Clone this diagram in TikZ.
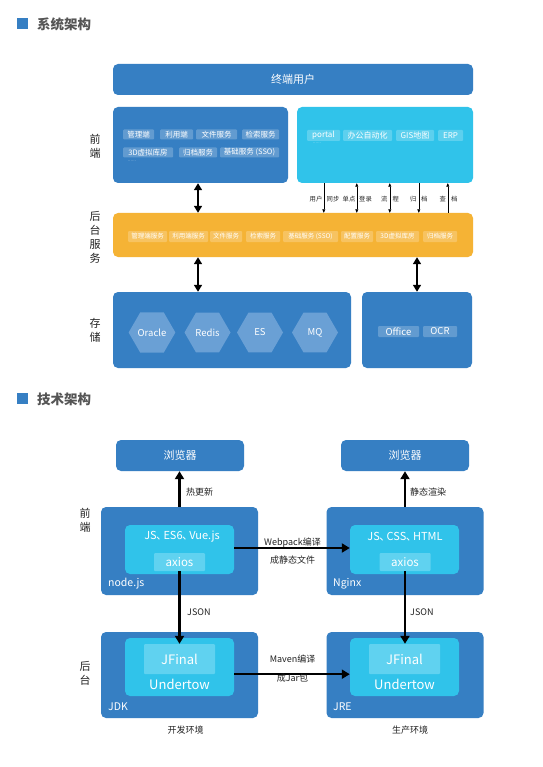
\documentclass[tikz,border=0pt]{standalone}
\usepackage{fontspec}
\setmainfont{Noto Sans CJK SC}
\usetikzlibrary{arrows.meta,shapes.geometric}
\definecolor{mblue}{HTML}{367FC3}
\definecolor{mcyan}{HTML}{30C3EA}
\definecolor{morange}{HTML}{F5B335}
\definecolor{mhex}{HTML}{6AA0D5}
\definecolor{mlcyan}{HTML}{60D2F0}
\definecolor{mgray}{HTML}{555555}
\definecolor{mdark}{HTML}{222222}
\newcommand\mydun{\makebox[0.62em][l]{\kern-0.05em 、}}
\tikzset{
  blk/.style={rounded corners=5pt, inner sep=0pt, text=white},
  bluebox/.style={blk, fill=mblue},
  cyanbox/.style={blk, fill=mcyan},
  orangebox/.style={blk, fill=morange},
  tagbox/.style={fill=white, fill opacity=0.22, text opacity=1, text=white, inner sep=0pt, rounded corners=1pt, font=\fontsize{7.5}{8}\selectfont, minimum height=10pt},
  btag/.style={tagbox, font=\fontsize{6.5}{7}\selectfont, minimum height=11pt},
  rtag/.style={tagbox, font=\fontsize{8}{9}\selectfont, minimum height=11pt},
  stag/.style={tagbox, font=\fontsize{9.5}{10}\selectfont, minimum height=11pt},
  hexnode/.style={regular polygon, regular polygon sides=6, minimum size=46pt, inner sep=0pt, fill=mhex, text=white, font=\fontsize{9.5}{10}\selectfont},
  sidelbl/.style={font=\fontsize{11}{14}\selectfont, align=center, text=mdark},
  title/.style={font=\fontsize{13.5}{14}\selectfont\bfseries, text=mgray, anchor=west, inner sep=0pt},
  sq/.style={fill=mblue, minimum size=11pt, inner sep=0pt},
  dbl/.style={line width=1.6pt, {Triangle[width=8pt,length=7pt]}-{Triangle[width=8pt,length=7pt]}},
  thinup/.style={line width=0.6pt, -{Triangle[width=3pt,length=3.5pt]}},
  thindbl/.style={line width=0.6pt, {Triangle[width=3pt,length=3.5pt]}-{Triangle[width=3pt,length=3.5pt]}},
  smalllbl/.style={font=\fontsize{6.3}{7}\selectfont, text=mdark, inner sep=0pt},
  bigarrow/.style={line width=2.2pt, -{Triangle[width=9pt,length=8pt]}},
  techlbl/.style={font=\fontsize{9}{10}\selectfont, text=mdark, inner sep=0pt},
}
\begin{document}
\begin{tikzpicture}[x=1pt,y=-1pt]
\useasboundingbox[fill=white] (0,0) rectangle (542,767);

% ---------- title 1
\node[sq] (sq1) at (22.5,24) {};
\node[title] (t1) at (37,24.5) {系统架构};

% ---------- top bar
\node[bluebox, minimum width=360pt, minimum height=31pt, font=\fontsize{11}{12}\selectfont] (user) at (293,79.5) {终端用户};

% ---------- frontend
\node[bluebox, minimum width=175pt, minimum height=76pt] (frontL) at (200.5,145) {};
\node[cyanbox, minimum width=176pt, minimum height=76pt] (frontR) at (385,145) {};

\node[tagbox, minimum width=31pt] (f1) at (138.5,134.5) {管理端};
\node[tagbox, minimum width=33pt] (f2) at (176.5,134.5) {利用端};
\node[tagbox, minimum width=41pt] (f3) at (216.5,134.5) {文件服务};
\node[tagbox, minimum width=37pt] (f4) at (260.5,134.5) {检索服务};
\node[tagbox, minimum width=50pt] (f5) at (148,152.5) {3D虚拟库房};
\node[tagbox, minimum width=38pt] (f6) at (198,152.5) {归档服务};
\node[tagbox, minimum width=59pt] (f7) at (249.5,152.5) {基础服务 (SSO)};
\node[font=\fontsize{5}{5}\selectfont, text=white, text opacity=0.5, inner sep=0pt] (fd) at (132,161) {......};

\node[rtag, minimum width=33pt] (r1) at (323.5,135.5) {portal};
\node[rtag, minimum width=49pt] (r2) at (367.5,135.5) {办公自动化};
\node[rtag, minimum width=38pt] (r3) at (415,135.5) {GIS地图};
\node[rtag, minimum width=25pt] (r4) at (450.5,135.5) {ERP};
\node[font=\fontsize{5}{5}\selectfont, text=white, text opacity=0.5, inner sep=0pt] (rd) at (317,143) {......};

\node[sidelbl] (lblF) at (95,146.5) {前\\端};

% ---------- backend
\node[orangebox, minimum width=360pt, minimum height=44pt] (backend) at (293,235) {};
\node[btag, minimum width=39pt] (b1) at (147.5,236.5) {管理端服务};
\node[btag, minimum width=39pt] (b2) at (188.5,236.5) {利用端服务};
\node[btag, minimum width=32pt] (b3) at (226,236.5) {文件服务};
\node[btag, minimum width=34pt] (b4) at (263,236.5) {检索服务};
\node[btag, minimum width=55pt] (b5) at (310.5,236.5) {基础服务 (SSO)};
\node[btag, minimum width=32pt] (b6) at (357,236.5) {配置服务};
\node[btag, minimum width=43pt] (b7) at (397.5,236.5) {3D虚拟库房};
\node[btag, minimum width=34pt] (b8) at (440,236.5) {归档服务};

\node[sidelbl] (lblB) at (95,237) {后\\台\\服\\务};

% ---------- storage
\node[bluebox, minimum width=238pt, minimum height=76pt] (storeL) at (232,330) {};
\node[bluebox, minimum width=110pt, minimum height=76pt] (storeR) at (417,330) {};
\node[hexnode] (h1) at (152,332.5) {Oracle};
\node[hexnode] (h2) at (207.5,332.5) {Redis};
\node[hexnode] (h3) at (260,332.5) {ES};
\node[hexnode] (h4) at (315,332.5) {MQ};
\node[stag, minimum width=41pt] (s1) at (398.5,331.5) {Office};
\node[stag, minimum width=34pt] (s2) at (440,331.5) {OCR};

\node[sidelbl] (lblS) at (95,330.5) {存\\储};

% ---------- connectors (system)
\draw[dbl] ([xshift=-2.5pt]frontL.south) -- ([xshift=-2.5pt]frontL.south |- backend.north);
\draw[dbl] ([xshift=-2.5pt]frontL.south |- backend.south) -- ([xshift=-2.5pt]frontL.south |- storeL.north);
\draw[dbl] (storeR.north |- backend.south) -- (storeR.north);

\draw[thinup] ([xshift=27pt]frontR.south west) -- ([xshift=27pt]frontR.south west |- backend.north);
\draw[thindbl] ([xshift=60pt]frontR.south west) -- ([xshift=60pt]frontR.south west |- backend.north);
\draw[thindbl] ([xshift=93pt]frontR.south west) -- ([xshift=93pt]frontR.south west |- backend.north);
\draw[thinup] ([xshift=122pt]frontR.south west) -- ([xshift=122pt]frontR.south west |- backend.north);
\draw[thinup] ([xshift=151pt]frontR.south west |- backend.north) -- ([xshift=151pt]frontR.south west);

\node[smalllbl, anchor=east] (l1a) at (322.5,199) {用户};
\node[smalllbl, anchor=west] (l1b) at (326.5,199) {同步};
\node[smalllbl, anchor=east] (l2a) at (355.5,199) {单点};
\node[smalllbl, anchor=west] (l2b) at (359,199) {登录};
\node[smalllbl, anchor=east] (l3a) at (387.5,199) {流};
\node[smalllbl, anchor=west] (l3b) at (392.5,199) {程};
\node[smalllbl, anchor=east] (l4a) at (416.5,199) {归};
\node[smalllbl, anchor=west] (l4b) at (421,199) {档};
\node[smalllbl, anchor=east] (l5a) at (446,199) {查};
\node[smalllbl, anchor=west] (l5b) at (451,199) {档};

% ---------- title 2
\node[sq] (sq2) at (22.5,398.5) {};
\node[title] (t2) at (37,399) {技术架构};

% ---------- tech architecture
\node[bluebox, minimum width=128pt, minimum height=31pt, font=\fontsize{11}{12}\selectfont] (brL) at (180,455.5) {浏览器};
\node[bluebox, minimum width=128pt, minimum height=31pt, font=\fontsize{11}{12}\selectfont] (brR) at (405,455.5) {浏览器};

\node[bluebox, minimum width=157pt, minimum height=88pt] (nodejs) at (179.5,551) {};
\node[cyanbox, minimum width=109pt, minimum height=49pt] (feinL) at (179.5,549.5) {};
\node[text=white, font=\fontsize{11}{12}\selectfont, inner sep=0pt] (jsL) at (182,537) {JS\mydun ES6\mydun Vue.js};
\node[fill=mlcyan, rounded corners=1pt, minimum width=51pt, minimum height=18pt, inner sep=0pt, text=white, font=\fontsize{11.5}{12}\selectfont] (axL) at (179.5,562) {axios};
\node[text=white, font=\fontsize{10.5}{11}\selectfont, anchor=west, inner sep=0pt] (nodejsLbl) at (108,584) {node.js};

\node[bluebox, minimum width=157pt, minimum height=88pt] (nginx) at (405,551) {};
\node[cyanbox, minimum width=109pt, minimum height=49pt] (feinR) at (404.5,549.5) {};
\node[text=white, font=\fontsize{11}{12}\selectfont, inner sep=0pt] (jsR) at (405,537) {JS\mydun CSS\mydun HTML};
\node[fill=mlcyan, rounded corners=1pt, minimum width=51pt, minimum height=18pt, inner sep=0pt, text=white, font=\fontsize{11.5}{12}\selectfont] (axR) at (405,562) {axios};
\node[text=white, font=\fontsize{10.5}{11}\selectfont, anchor=west, inner sep=0pt] (nginxLbl) at (333,584) {Nginx};

\node[bluebox, minimum width=157pt, minimum height=86pt] (jdk) at (179.5,675) {};
\node[cyanbox, minimum width=109pt, minimum height=58pt] (beinL) at (179.5,667) {};
\node[fill=mlcyan, rounded corners=1pt, minimum width=71pt, minimum height=30pt, inner sep=0pt] (jfL) at (179.5,659) {};
\node[text=white, font=\fontsize{13}{14}\selectfont, inner sep=0pt] (jfLt) at (179.5,659) {JFinal};
\node[text=white, font=\fontsize{13}{14}\selectfont, inner sep=0pt] (utL) at (179.5,684) {Undertow};
\node[text=white, font=\fontsize{10.5}{11}\selectfont, anchor=west, inner sep=0pt] (jdkLbl) at (108,707) {JDK};

\node[bluebox, minimum width=157pt, minimum height=86pt] (jre) at (405,675) {};
\node[cyanbox, minimum width=109pt, minimum height=58pt] (beinR) at (404.5,667) {};
\node[fill=mlcyan, rounded corners=1pt, minimum width=71pt, minimum height=30pt, inner sep=0pt] (jfR) at (404.5,659) {};
\node[text=white, font=\fontsize{13}{14}\selectfont, inner sep=0pt] (jfRt) at (404.5,659) {JFinal};
\node[text=white, font=\fontsize{13}{14}\selectfont, inner sep=0pt] (utR) at (404.5,684) {Undertow};
\node[text=white, font=\fontsize{10.5}{11}\selectfont, anchor=west, inner sep=0pt] (jreLbl) at (333,707) {JRE};

\node[sidelbl] (lblF2) at (85,520) {前\\端};
\node[sidelbl] (lblB2) at (85,673.5) {后\\台};

% tech connectors
\draw[bigarrow] (nodejs.north) -- (nodejs.north |- brL.south);
\draw[bigarrow] (nginx.north) -- (nginx.north |- brR.south);
\node[techlbl, anchor=west] (hot) at (186,492) {热更新};
\node[techlbl, anchor=west] (ssr) at (410,492) {静态渲染};

\draw[bigarrow] ([yshift=1.5pt]feinL.east) -- ([yshift=1.5pt]feinR.west);
\node[techlbl] (wp1) at (292.5,543) {Webpack编译};
\node[techlbl] (wp2) at (292.5,560) {成静态文件};

\draw[bigarrow] (axL.south) -- (axL.south |- jfL.north);
\draw[bigarrow] (axR.south) -- (axR.south |- jfR.north);
\node[techlbl, anchor=west] (js1) at (187,612) {JSON};
\node[techlbl, anchor=west] (js2) at (410,612) {JSON};

\draw[bigarrow] (beinL.east |- jfL.south) -- (beinR.west |- jfR.south);
\node[techlbl] (mv1) at (292.5,659) {Maven编译};
\node[techlbl] (mv2) at (292.5,678) {成Jar包};

\node[techlbl] (env1) at (185.5,730) {开发环境};
\node[techlbl] (env2) at (410,730) {生产环境};
\end{tikzpicture}
\end{document}
